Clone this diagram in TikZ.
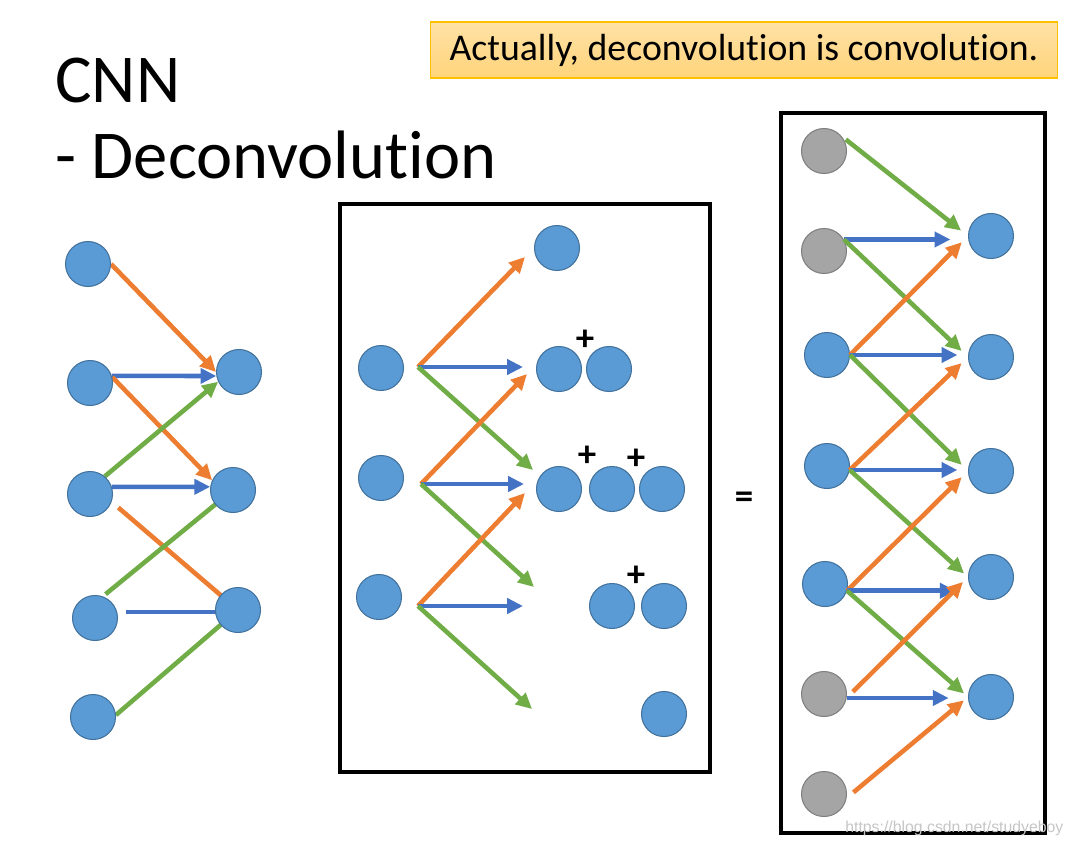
\documentclass[tikz,border=0pt]{standalone}
\usepackage{fontspec}
\setmainfont{Carlito}[Ligatures={NoCommon}]
\newfontfamily\markfont{Liberation Sans}
\usetikzlibrary{arrows.meta}

\definecolor{nodeblue}{HTML}{5B9BD5}
\definecolor{nodeedge}{HTML}{41719C}
\definecolor{padgray}{HTML}{A5A5A5}
\definecolor{padedge}{HTML}{7F7F7F}
\definecolor{arrorange}{HTML}{ED7D31}
\definecolor{arrgreen}{HTML}{70AD47}
\definecolor{arrblue}{HTML}{4472C4}
\definecolor{notetop}{HTML}{FFE2A6}
\definecolor{notebottom}{HTML}{FFD47A}
\definecolor{noteedge}{HTML}{FFC000}

\pgfdeclarelayer{background}
\pgfsetlayers{background,main}

\tikzset{
    neuron/.style={circle, fill=nodeblue, draw=nodeedge, line width=0.6pt, minimum size=0.9cm, inner sep=0pt},
    pad/.style={neuron, fill=padgray, draw=padedge},
    link/.style={line width=2.6pt, -{Triangle[length=9pt,width=8.5pt]}},
    oarr/.style={link, draw=arrorange},
    garr/.style={link, draw=arrgreen},
    barr/.style={link, draw=arrblue},
    frame/.style={draw=black, line width=2.8pt},
    plus/.style={font=\fontsize{21}{21}\selectfont\bfseries, inner sep=0pt},
    heading/.style={anchor=base west, inner sep=0pt, font=\fontsize{39}{42}\selectfont}
}

\begin{document}
\begin{tikzpicture}[x=0.02cm, y=-0.02cm]
    \useasboundingbox (0,0) rectangle (1072,848);
    \begin{pgfonlayer}{background}
    \fill[white] (0,0) rectangle (1072,848);
    \end{pgfonlayer}

    % শিরোনাম
    \node[heading] (title) at (55,103) {CNN};
    \node[heading] (subtitle) at (55,178) {- Deconvolution};
    \node[draw=noteedge, line width=0.6pt, top color=notetop, bottom color=notebottom,
          minimum width=12.56cm, minimum height=1.12cm, font=\fontsize{21.5}{24}\selectfont] (note) at (744,50) {Actually, deconvolution is convolution.};

    % বাম দিকের চিত্র
    \node[neuron] (in1) at (88,264) {};
    \node[neuron] (in2) at (90,383) {};
    \node[neuron] (in3) at (90,494) {};
    \node[neuron] (in4) at (95,618) {};
    \node[neuron] (in5) at (93,717) {};
    \node[neuron] (out1) at (239,372) {};
    \node[neuron] (out2) at (233,490) {};
    \node[neuron] (out3) at (238,610) {};

    \begin{pgfonlayer}{background}
    \draw[oarr] (in1.east) -- (out1.west);
    \draw[barr] (in2.18) -- (out1.190);
    \draw[oarr] (in2.15) -- (out2.155);
    \draw[garr] (in3.50) -- (out1.205);
    \draw[barr] (in3.18) -- (out2.172);
    \draw[oarr, shorten <=5pt] (in3.-20) -- (out3.center);
    \draw[garr, shorten <=2pt] (in4.70) -- (out2.center);
    \draw[barr, shorten <=5pt] (in4.15) -- (in4.15 -| out3.center);
    \draw[garr] (in5.5) -- (out3.center);
    \end{pgfonlayer}

    % মাঝের চিত্র
    \draw[frame] (340,204) rectangle (710,772);
    \node[neuron] (a1) at (381,368) {};
    \node[neuron] (a2) at (381,478) {};
    \node[neuron] (a3) at (379,597) {};
    \node[neuron] (m1) at (557,248) {};
    \node[neuron] (m2) at (559,369) {};
    \node[neuron] (m3) at (609,369) {};
    \node[neuron] (m4) at (559,489) {};
    \node[neuron] (m5) at (612,489) {};
    \node[neuron] (m6) at (662,489) {};
    \node[neuron] (m7) at (612,606) {};
    \node[neuron] (m8) at (664,606) {};
    \node[neuron] (m9) at (664,714) {};
    \node[plus] (plus1) at (585,340) {+};
    \node[plus] (plus2) at (587,456) {+};
    \node[plus] (plus3) at (636,459) {+};
    \node[plus] (plus4) at (636,576) {+};

    \coordinate (s1) at (418,367);
    \coordinate (s2) at (421,484);
    \coordinate (s3) at (418,606);
    \coordinate (u1) at (525,257);
    \coordinate (h1) at (523,367);
    \coordinate (d1) at (533,470);
    \coordinate (u2) at (527,374);
    \coordinate (h2) at (524,484);
    \coordinate (d2) at (534,587);
    \coordinate (u3) at (525,493);
    \coordinate (h3) at (523,606);
    \coordinate (d3) at (532,709);

    \draw[oarr] (s1) -- (u1);
    \draw[barr] (s1) -- (h1);
    \draw[garr] (s1) -- (d1);
    \draw[oarr] (s2) -- (u2);
    \draw[barr] (s2) -- (h2);
    \draw[garr] (s2) -- (d2);
    \draw[oarr] (s3) -- (u3);
    \draw[barr] (s3) -- (h3);
    \draw[garr] (s3) -- (d3);

    \node[font=\fontsize{21}{21}\selectfont\bfseries, inner sep=0pt] (equal) at (744,500) {=};

    % ডান দিকের চিত্র
    \draw[frame] (781,113) rectangle (1045,833);
    \node[pad] (p1) at (824,151) {};
    \node[pad] (p2) at (824,251) {};
    \node[neuron] (p3) at (827,355) {};
    \node[neuron] (p4) at (827,466) {};
    \node[neuron] (p5) at (825,584) {};
    \node[pad] (p6) at (824,694) {};
    \node[pad] (p7) at (824,794) {};
    \node[neuron] (q1) at (991,236) {};
    \node[neuron] (q2) at (991,357) {};
    \node[neuron] (q3) at (991,471) {};
    \node[neuron] (q4) at (991,577) {};
    \node[neuron] (q5) at (991,697) {};

    \draw[garr, shorten <=3pt, shorten >=5pt] (p1.40) -- (q1.west);
    \draw[barr, shorten >=10pt] (p2.30) -- (p2.30 -| q1.west);
    \draw[garr, shorten >=5pt] (p2.30) -- (q2.west);
    \draw[oarr, shorten >=5pt] (p3.east) -- (q1.west);
    \draw[barr, shorten >=6pt] (p3.east) -- (p3.east -| q2.west);
    \draw[garr, shorten >=5pt] (p3.east) -- (q3.west);
    \draw[oarr, shorten >=5pt] (p4.-10) -- (q2.west);
    \draw[barr, shorten >=6pt] (p4.-10) -- (p4.-10 -| q3.west);
    \draw[garr, shorten >=3pt] (p4.-10) -- (q4.west);
    \draw[oarr, shorten >=5pt] (p5.-17) -- (q3.west);
    \draw[barr, shorten >=7pt] (p5.-17) -- (p5.-17 -| q4.west);
    \draw[garr, shorten >=3pt] (p5.-17) -- (q5.west);
    \draw[oarr, shorten <=5pt, shorten >=4pt] (p6.-10) -- (q4.west);
    \draw[barr, shorten >=11pt] (p6.-10) -- (p6.-10 -| q5.west);
    \draw[oarr, shorten <=5pt, shorten >=3pt] (p7.-10) -- (q5.west);

    \node[anchor=base west, inner sep=0pt, text=gray!45, font=\markfont\fontsize{9}{9}\selectfont] (mark) at (845,832) {https://blog.csdn.net/studyeboy};
\end{tikzpicture}
\end{document}
